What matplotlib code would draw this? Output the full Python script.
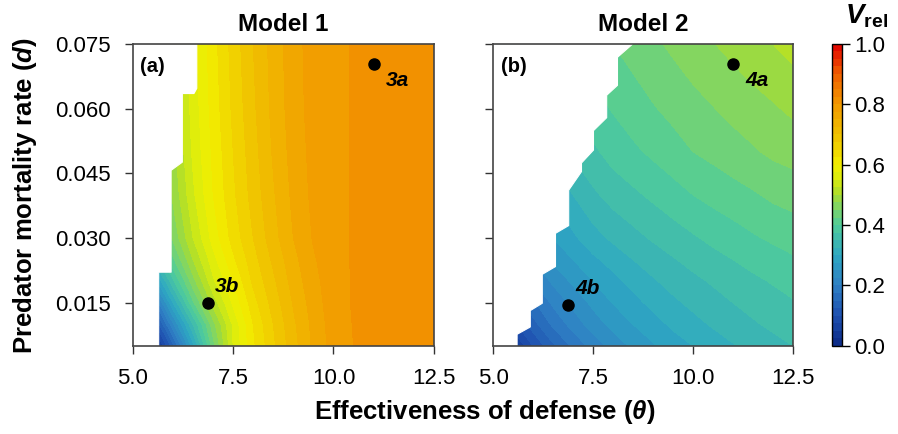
import numpy as np
import matplotlib
matplotlib.use('Agg')
import matplotlib.pyplot as plt
from matplotlib.colors import LinearSegmentedColormap

plt.rcParams['font.family'] = ['Liberation Sans', 'DejaVu Sans']
plt.rcParams['mathtext.fontset'] = 'custom'
plt.rcParams['mathtext.rm'] = 'Liberation Sans'
plt.rcParams['mathtext.bf'] = 'Liberation Sans:bold'
plt.rcParams['mathtext.it'] = 'Liberation Sans:italic'
plt.rcParams['mathtext.bfit'] = 'Liberation Sans:bold:italic'

# grid (effectiveness of defense theta, predator mortality d)
theta = [5.0, 5.5, 6.0, 6.5, 7.0, 7.5, 8.0, 8.5, 9.0, 9.5, 10.0, 10.5, 11.0, 11.5, 12.0, 12.5]
d_vals = [0.005, 0.010, 0.015, 0.020, 0.025, 0.030, 0.040, 0.050, 0.060, 0.075]

# V_rel, Model 1 (rows = d, cols = theta)
v_model1 = [
    [0.00, 0.01, 0.14, 0.29, 0.44, 0.55, 0.62, 0.67, 0.715, 0.755, 0.785, 0.800, 0.808, 0.812, 0.814, 0.815],
    [0.00, 0.08, 0.22, 0.35, 0.465, 0.555, 0.625, 0.675, 0.72, 0.757, 0.787, 0.801, 0.809, 0.813, 0.815, 0.816],
    [0.04, 0.16, 0.30, 0.42, 0.51, 0.58, 0.64, 0.685, 0.727, 0.762, 0.789, 0.802, 0.810, 0.814, 0.816, 0.817],
    [0.13, 0.25, 0.37, 0.465, 0.545, 0.60, 0.655, 0.695, 0.735, 0.767, 0.790, 0.802, 0.811, 0.815, 0.817, 0.818],
    [0.22, 0.33, 0.42, 0.50, 0.565, 0.62, 0.665, 0.705, 0.742, 0.772, 0.791, 0.802, 0.812, 0.815, 0.817, 0.818],
    [0.28, 0.38, 0.455, 0.525, 0.585, 0.635, 0.675, 0.715, 0.75, 0.777, 0.792, 0.802, 0.812, 0.815, 0.817, 0.818],
    [0.33, 0.42, 0.48, 0.545, 0.60, 0.645, 0.685, 0.722, 0.756, 0.781, 0.792, 0.802, 0.812, 0.815, 0.817, 0.818],
    [0.36, 0.43, 0.49, 0.555, 0.605, 0.65, 0.69, 0.728, 0.76, 0.783, 0.792, 0.802, 0.812, 0.815, 0.817, 0.818],
    [0.37, 0.44, 0.50, 0.56, 0.61, 0.655, 0.695, 0.732, 0.763, 0.785, 0.792, 0.802, 0.812, 0.815, 0.817, 0.818],
    [0.38, 0.45, 0.51, 0.565, 0.615, 0.66, 0.70, 0.735, 0.765, 0.786, 0.792, 0.802, 0.812, 0.815, 0.817, 0.818],
]

# V_rel, Model 2
v_model2 = [
    [0.00, 0.04, 0.10, 0.145, 0.18, 0.21, 0.235, 0.255, 0.272, 0.288, 0.30, 0.312, 0.323, 0.333, 0.342, 0.35],
    [0.04, 0.09, 0.14, 0.18, 0.21, 0.237, 0.258, 0.275, 0.29, 0.305, 0.317, 0.328, 0.338, 0.347, 0.355, 0.362],
    [0.08, 0.13, 0.17, 0.205, 0.232, 0.256, 0.276, 0.292, 0.307, 0.32, 0.331, 0.341, 0.35, 0.358, 0.366, 0.373],
    [0.11, 0.16, 0.20, 0.23, 0.255, 0.275, 0.292, 0.308, 0.322, 0.334, 0.344, 0.353, 0.362, 0.37, 0.377, 0.384],
    [0.14, 0.19, 0.225, 0.255, 0.275, 0.295, 0.31, 0.325, 0.337, 0.348, 0.358, 0.367, 0.375, 0.383, 0.39, 0.397],
    [0.17, 0.21, 0.245, 0.275, 0.295, 0.315, 0.33, 0.342, 0.353, 0.363, 0.372, 0.381, 0.389, 0.397, 0.404, 0.41],
    [0.21, 0.25, 0.28, 0.305, 0.325, 0.345, 0.36, 0.37, 0.38, 0.39, 0.40, 0.408, 0.415, 0.422, 0.43, 0.435],
    [0.24, 0.28, 0.31, 0.335, 0.355, 0.37, 0.385, 0.395, 0.405, 0.415, 0.425, 0.432, 0.44, 0.447, 0.455, 0.46],
    [0.27, 0.305, 0.335, 0.357, 0.375, 0.39, 0.402, 0.413, 0.423, 0.432, 0.441, 0.449, 0.457, 0.465, 0.472, 0.48],
    [0.31, 0.34, 0.365, 0.385, 0.40, 0.413, 0.425, 0.435, 0.445, 0.455, 0.465, 0.474, 0.483, 0.492, 0.50, 0.51],
]

# edge of the region with a solution (left of it is blank)
m1_edge_theta = [5.63, 5.63, 5.94, 5.94, 6.22, 6.22, 6.51, 6.58, 6.58]
m1_edge_d = [0.005, 0.0222, 0.0222, 0.0458, 0.0477, 0.0636, 0.0636, 0.0648, 0.075]
m2_edge_theta = [5.59, 5.59, 5.92, 5.92, 6.22, 6.22, 6.55, 6.55, 6.88, 6.88, 7.2, 7.2,
                 7.5, 7.5, 7.83, 7.83, 8.1, 8.1, 8.47]
m2_edge_d = [0.005, 0.0078, 0.0095, 0.0133, 0.015, 0.0217, 0.0235, 0.0312, 0.033, 0.0412,
             0.0455, 0.0475, 0.0505, 0.055, 0.058, 0.0632, 0.0655, 0.072, 0.075]

# marked parameter sets
m1_pts = {'3a': (11.0, 0.0704), '3b': (6.88, 0.015)}
m2_pts = {'4a': (11.0, 0.0704), '4b': (6.88, 0.0145)}

cmap = LinearSegmentedColormap.from_list('vrel', [
    (0.00, '#0c2a85'), (0.10, '#1e50b0'), (0.20, '#2f80c4'), (0.30, '#2ea8c2'),
    (0.40, '#50cc9a'), (0.45, '#78d470'), (0.50, '#a8dc30'), (0.55, '#d8ec10'),
    (0.60, '#f2ee00'), (0.70, '#f0c000'), (0.80, '#f29a00'), (0.90, '#f06000'),
    (1.00, '#e00000')])
levels = np.linspace(0, 1, 41)

fig = plt.figure(figsize=(8.98, 4.34), dpi=100)
ax1 = fig.add_axes([0.148, 0.203, 0.335, 0.696])
ax2 = fig.add_axes([0.549, 0.203, 0.334, 0.696])
cax = fig.add_axes([0.9265, 0.203, 0.0111, 0.696])

panels = [(ax1, v_model1, m1_edge_theta, m1_edge_d, m1_pts, 'Model 1', '(a)'),
          (ax2, v_model2, m2_edge_theta, m2_edge_d, m2_pts, 'Model 2', '(b)')]

for ax, v, eth, ed, pts, title, tag in panels:
    cs = ax.contourf(theta, d_vals, np.array(v), levels=levels, cmap=cmap, vmin=0, vmax=1)
    ax.fill_betweenx(ed, 4.9, eth, color='white', lw=0.8, ec='white', zorder=2)
    for name, (x, y) in pts.items():
        ax.plot(x, y, 'o', color='black', ms=8, zorder=4)
        off = (5, 8) if 'b' in name else (9, -16)
        ax.annotate(name, (x, y), xytext=off, textcoords='offset points',
                    fontsize=15, fontweight='bold', fontstyle='italic', zorder=4)
    ax.text(0.025, 0.955, tag, transform=ax.transAxes, fontsize=14.5,
            fontweight='bold', va='top', zorder=4)
    ax.set_title(title, fontsize=17.5, fontweight='bold', pad=9)
    ax.set_xlim(5.0, 12.5)
    ax.set_ylim(0.005, 0.075)
    ax.set_xticks([5.0, 7.5, 10.0, 12.5])
    ax.set_xticklabels(['5.0', '7.5', '10.0', '12.5'])
    ax.set_yticks([0.015, 0.030, 0.045, 0.060, 0.075])
    ax.tick_params(direction='out', length=6, width=1, labelsize=16, colors='#333333',
                   labelcolor='black')
    ax.tick_params(axis='x', pad=10)
    for s in ax.spines.values():
        s.set_linewidth(1.2)
        s.set_color('#444444')
        s.set_zorder(5)

ax1.set_yticklabels(['0.015', '0.030', '0.045', '0.060', '0.075'])
ax1.tick_params(axis='y', pad=10)
ax2.set_yticklabels([])

cb = fig.colorbar(cs, cax=cax, ticks=[0, 0.2, 0.4, 0.6, 0.8, 1.0])
cb.ax.set_yticklabels(['0.0', '0.2', '0.4', '0.6', '0.8', '1.0'])
cb.ax.tick_params(length=6, width=1, labelsize=16, pad=3)
cb.outline.set_linewidth(1)

fig.text(0.965, 0.945, r'$\mathbfit{V}_{\mathbf{rel}}$', fontsize=20, ha='center')
fig.text(0.54, 0.035, r'Effectiveness of defense ($\mathbfit{\theta}$)', fontsize=18.5,
         fontweight='bold', ha='center')
fig.text(0.012, 0.55, r'Predator mortality rate ($\mathbfit{d}$)', fontsize=18.5,
         fontweight='bold', va='center', rotation=90)

fig.savefig('out.png', dpi=100)
